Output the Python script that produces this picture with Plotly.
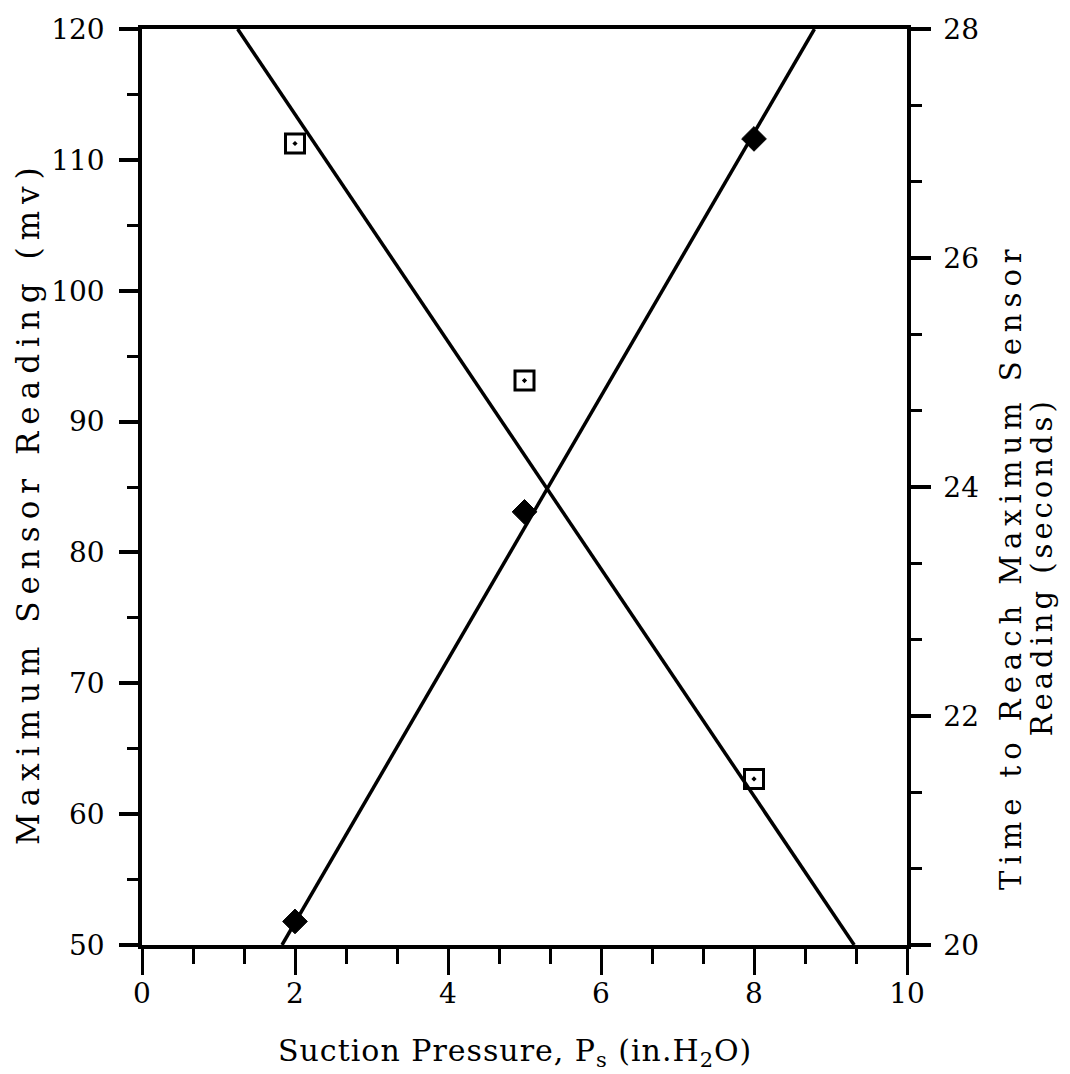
import plotly.graph_objects as go

# Measured points
pressure = [2, 5, 8]
max_reading = [51.8, 83.1, 111.6]       # mv, left axis
time_to_max = [27.0, 24.93, 21.45]      # seconds, right axis

# Fitted straight lines (end points on the axis frame)
fit_reading_x = [1.83, 8.79]
fit_reading_y = [50, 120]
fit_time_x = [1.25, 9.31]
fit_time_y = [28, 20]

x_ticks = [0, 2, 4, 6, 8, 10]
left_ticks = [50, 60, 70, 80, 90, 100, 110, 120]
right_ticks = [20, 22, 24, 26, 28]

FONT = "DejaVu Serif"
INK = "black"


def spaced(text, px):
    """Wrap text in a span with extra letter spacing."""
    return f'<span style="letter-spacing:{px}px">{text}</span>'


fig = go.Figure()

fig.add_trace(go.Scatter(
    x=fit_reading_x, y=fit_reading_y, mode="lines",
    line=dict(color=INK, width=3.5), showlegend=False, cliponaxis=False))
fig.add_trace(go.Scatter(
    x=pressure, y=max_reading, mode="markers",
    marker=dict(symbol="diamond", size=19, color=INK,
                line=dict(color=INK, width=1)),
    showlegend=False))
fig.add_trace(go.Scatter(
    x=fit_time_x, y=fit_time_y, mode="lines", yaxis="y2",
    line=dict(color=INK, width=3.5), showlegend=False, cliponaxis=False))
fig.add_trace(go.Scatter(
    x=pressure, y=time_to_max, mode="markers", yaxis="y2",
    marker=dict(symbol="square-open-dot", size=19, color=INK,
                line=dict(color=INK, width=3)),
    showlegend=False))

tickfont = dict(family=FONT, size=28, color=INK)

fig.update_layout(
    width=1070, height=1074,
    margin=dict(l=142, r=163, t=29, b=129),
    paper_bgcolor="white", plot_bgcolor="white",
    font=dict(family=FONT, color=INK),
    xaxis=dict(
        range=[0, 10], tickvals=x_ticks, ticktext=[str(v) for v in x_ticks],
        showgrid=False, zeroline=False,
        showline=True, linecolor=INK, linewidth=3.5, mirror=True,
        ticks="outside", ticklen=26, tickwidth=3, tickcolor=INK,
        minor=dict(dtick=2/3, tick0=0, ticks="outside", ticklen=15,
                   tickwidth=3, tickcolor=INK, showgrid=False),
        tickfont=tickfont, ticklabelstandoff=-5,
    ),
    yaxis=dict(
        range=[50, 120], tickvals=left_ticks,
        showgrid=False, zeroline=False,
        showline=True, linecolor=INK, linewidth=3.5,
        ticks="outside", ticklen=19, tickwidth=3.5, tickcolor=INK,
        minor=dict(dtick=5, tick0=50, ticks="outside", ticklen=11,
                   tickwidth=3, tickcolor=INK, showgrid=False),
        tickfont=tickfont, ticklabelstandoff=9,
    ),
    yaxis2=dict(
        range=[20, 28], tickvals=right_ticks, overlaying="y", side="right",
        showgrid=False, zeroline=False,
        showline=True, linecolor=INK, linewidth=3.5,
        ticks="outside", ticklen=20, tickwidth=3.5, tickcolor=INK,
        minor=dict(dtick=2/3, tick0=20, ticks="outside", ticklen=11,
                   tickwidth=3, tickcolor=INK, showgrid=False),
        tickfont=tickfont, ticklabelstandoff=7,
    ),
    annotations=[
        dict(text=spaced("Suction Pressure, P<sub>s</sub> (in.H<sub>2</sub>O)", 1),
             xref="paper", yref="paper", x=0.4876, y=-0.117,
             xanchor="center", yanchor="middle", showarrow=False,
             font=dict(family=FONT, size=30, color=INK)),
        dict(text=spaced("Maximum Sensor Reading (mv)", 7),
             xref="paper", yref="paper", x=-0.149, y=0.4825,
             xanchor="center", yanchor="middle", textangle=-90,
             showarrow=False, font=dict(family=FONT, size=31, color=INK)),
        dict(text=spaced("Time to Reach Maximum Sensor", 6),
             xref="paper", yref="paper", x=1.135, y=0.413,
             xanchor="center", yanchor="middle", textangle=-90,
             showarrow=False, font=dict(family=FONT, size=29, color=INK)),
        dict(text=spaced("Reading (seconds)", 4),
             xref="paper", yref="paper", x=1.176, y=0.413,
             xanchor="center", yanchor="middle", textangle=-90,
             showarrow=False, font=dict(family=FONT, size=29, color=INK)),
    ],
)

fig.write_html("out.html")
